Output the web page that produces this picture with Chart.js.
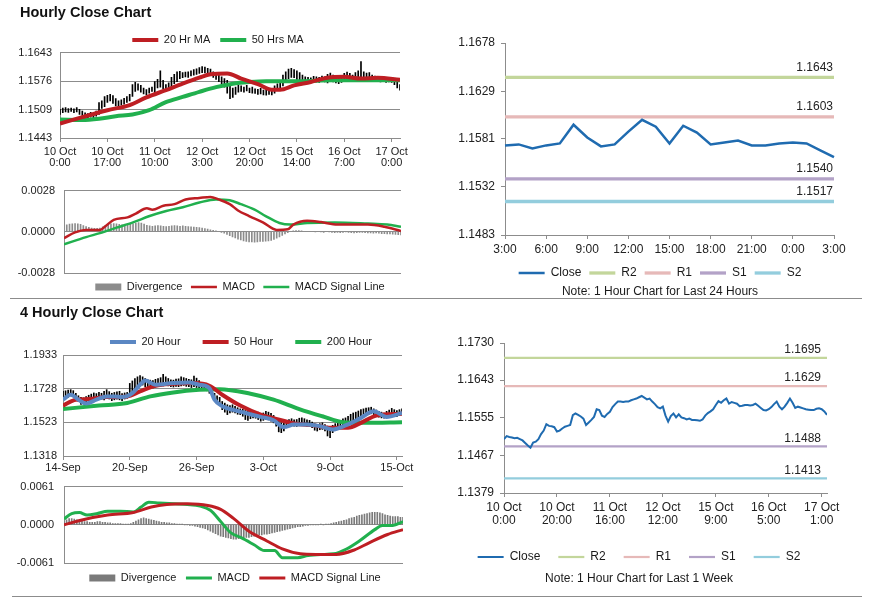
<!DOCTYPE html>
<html>
<head>
<meta charset="utf-8">
<script src="https://cdn.jsdelivr.net/npm/chart.js@4.4.1/dist/chart.umd.min.js"></script>
<style>
  body { margin: 0; background: #fff; }
  #page { position: relative; width: 873px; height: 601px; overflow: hidden; font-family: Arial, "Liberation Sans", sans-serif; }
  .heading { position: absolute; left: 20px; font-weight: bold; font-size: 14.5px; line-height: 17px; color: #111; }
  .rule { position: absolute; height: 0; border-top: 1.5px solid #8c8c8c; }
  canvas { position: absolute; }
</style>
</head>
<body>
<div id="page">
  <canvas id="hourlyPrice" width="420" height="160" style="left:0;top:20px"></canvas>
  <canvas id="hourlyMacd" width="470" height="120" style="left:0;top:175px"></canvas>
  <canvas id="dayLevels" width="430" height="285" style="left:440px;top:20px"></canvas>
  <canvas id="fourPrice" width="470" height="180" style="left:0;top:300px"></canvas>
  <canvas id="fourMacd" width="460" height="125" style="left:0;top:470px"></canvas>
  <canvas id="weekLevels" width="420" height="280" style="left:440px;top:320px"></canvas>
  <div class="heading" style="top:4px">Hourly Close Chart</div>
  <div class="rule" style="left:10px;width:852px;top:298px"></div>
  <div class="heading" style="top:304px">4 Hourly Close Chart</div>
  <div class="rule" style="left:12px;width:850px;top:596px"></div>
</div>
<script>
// ---- hourly close chart (10 Oct 0:00 .. 17 Oct 3:00, one bar per hour)
const hourlyTickIdx = [0, 17, 34, 51, 68, 85, 102, 119];
const hourlyTickLabels = [['10 Oct', '0:00'], ['10 Oct', '17:00'], ['11 Oct', '10:00'], ['12 Oct', '3:00'],
  ['12 Oct', '20:00'], ['15 Oct', '14:00'], ['16 Oct', '7:00'], ['17 Oct', '0:00']];
const hourlyPriceTicks = [1.1443, 1.1509, 1.1576, 1.1643];
const hourlyLow = [
  1.1498, 1.1502, 1.1504, 1.1503, 1.1505, 1.1502, 1.1504, 1.1498, 1.1496, 1.1490,
  1.1488, 1.1492, 1.1490, 1.1494, 1.1498, 1.1512, 1.1516, 1.1526, 1.1530, 1.1524,
  1.1518, 1.1517, 1.1520, 1.1522, 1.1526, 1.1530, 1.1540, 1.1552, 1.1555, 1.1550,
  1.1546, 1.1544, 1.1548, 1.1552, 1.1548, 1.1560, 1.1562, 1.1558, 1.1554, 1.1556,
  1.1562, 1.1570, 1.1575, 1.1582, 1.1584, 1.1586, 1.1585, 1.1588, 1.1590, 1.1592,
  1.1594, 1.1596, 1.1595, 1.1592, 1.1590, 1.1585, 1.1580, 1.1575, 1.1570, 1.1562,
  1.1548, 1.1535, 1.1538, 1.1545, 1.1550, 1.1552, 1.1550, 1.1553, 1.1549, 1.1548,
  1.1547, 1.1545, 1.1546, 1.1544, 1.1543, 1.1545, 1.1544, 1.1548, 1.1555, 1.1558,
  1.1565, 1.1578, 1.1582, 1.1585, 1.1584, 1.1580, 1.1578, 1.1577, 1.1575, 1.1574,
  1.1573, 1.1575, 1.1574, 1.1573, 1.1575, 1.1574, 1.1572, 1.1575, 1.1574, 1.1572,
  1.1570, 1.1573, 1.1576, 1.1580, 1.1578, 1.1575, 1.1577, 1.1580, 1.1582, 1.1580,
  1.1578, 1.1577, 1.1576, 1.1575, 1.1576, 1.1574, 1.1575, 1.1573, 1.1574, 1.1573,
  1.1568, 1.1560, 1.1555];
const hourlyHigh = [
  1.1510, 1.1513, 1.1514, 1.1512, 1.1513, 1.1511, 1.1514, 1.1510, 1.1506, 1.1502,
  1.1500, 1.1503, 1.1500, 1.1506, 1.1526, 1.1530, 1.1540, 1.1543, 1.1545, 1.1542,
  1.1535, 1.1530, 1.1532, 1.1536, 1.1540, 1.1545, 1.1568, 1.1573, 1.1570, 1.1566,
  1.1560, 1.1556, 1.1560, 1.1562, 1.1575, 1.1580, 1.1600, 1.1578, 1.1568, 1.1572,
  1.1585, 1.1592, 1.1598, 1.1599, 1.1596, 1.1597, 1.1598, 1.1600, 1.1603, 1.1605,
  1.1608, 1.1610, 1.1609, 1.1606, 1.1604, 1.1598, 1.1594, 1.1590, 1.1586, 1.1582,
  1.1578, 1.1565, 1.1560, 1.1562, 1.1566, 1.1565, 1.1562, 1.1566, 1.1560, 1.1562,
  1.1558, 1.1557, 1.1559, 1.1555, 1.1556, 1.1558, 1.1554, 1.1565, 1.1570, 1.1575,
  1.1590, 1.1598, 1.1604, 1.1606, 1.1603, 1.1600, 1.1596, 1.1590, 1.1586, 1.1585,
  1.1584, 1.1587, 1.1586, 1.1585, 1.1588, 1.1586, 1.1592, 1.1595, 1.1590, 1.1586,
  1.1583, 1.1588, 1.1594, 1.1597, 1.1594, 1.1590, 1.1596, 1.1600, 1.1622, 1.1598,
  1.1595, 1.1596, 1.1590, 1.1588, 1.1587, 1.1586, 1.1585, 1.1584, 1.1585, 1.1584,
  1.1580, 1.1575, 1.1568];
const hourlyMa20Idx = [0, 8, 17, 25, 31, 38, 44, 50, 54, 60, 65, 71, 76, 79, 84, 90, 96, 102, 108, 114, 122];
const hourlyMa20 = [1.1477, 1.1492, 1.1508, 1.1520, 1.1538, 1.1555, 1.1570, 1.1584, 1.1592, 1.1594, 1.1582,
  1.1569, 1.1556, 1.1556, 1.1566, 1.1574, 1.1584, 1.1586, 1.1582, 1.1584, 1.1579];
const hourlyMa50Idx = [0, 8, 14, 20, 26, 32, 38, 44, 50, 56, 62, 68, 74, 86, 98, 110, 122];
const hourlyMa50 = [1.1486, 1.1485, 1.1488, 1.1494, 1.1498, 1.1508, 1.1527, 1.1539, 1.1551, 1.1562, 1.1570,
  1.1574, 1.1576, 1.1576, 1.1578, 1.1578, 1.1578];

// ---- hourly MACD
const hourlyMacdTicks = [-0.0028, 0, 0.0028];
const hourlyDivergence = [
  0.00042, 0.00048, 0.00052, 0.00055, 0.00056, 0.00054, 0.00050, 0.00042, 0.00035, 0.00030,
  0.00026, 0.00024, 0.00024, 0.00026, 0.00034, 0.00042, 0.00050, 0.00054, 0.00056, 0.00054,
  0.00050, 0.00048, 0.00046, 0.00048, 0.00050, 0.00054, 0.00058, 0.00062, 0.00060, 0.00052,
  0.00044, 0.00040, 0.00038, 0.00040, 0.00042, 0.00040, 0.00038, 0.00036, 0.00038, 0.00040,
  0.00042, 0.00040, 0.00038, 0.00040, 0.00038, 0.00036, 0.00034, 0.00032, 0.00030, 0.00028,
  0.00026, 0.00022, 0.00018, 0.00014, 0.00010, 0.00006, 0.00002, -0.00004, -0.00010, -0.00018,
  -0.00026, -0.00034, -0.00042, -0.00050, -0.00056, -0.00062, -0.00066, -0.00068, -0.00068, -0.00070,
  -0.00068, -0.00066, -0.00066, -0.00064, -0.00062, -0.00058, -0.00052, -0.00044, -0.00034, -0.00024,
  -0.00014, -0.00006, 0.00002, 0.00006, 0.00008, 0.00008, 0.00006, 0.00004, 0.00004, 0.00002,
  0.00002, 0.00000, 0.00002, 0.00000, -0.00002, 0.00002, 0.00000, -0.00004, -0.00006, -0.00004,
  -0.00006, -0.00004, 0.00000, -0.00002, -0.00006, -0.00008, -0.00006, -0.00004, -0.00002, -0.00006,
  -0.00008, -0.00008, -0.00010, -0.00008, -0.00010, -0.00012, -0.00012, -0.00014, -0.00014, -0.00016,
  -0.00018, -0.00020, -0.00022];
const hourlyMacdIdx = [0, 4, 8, 13, 15, 18, 23, 26, 30, 32, 36, 40, 44, 49, 53, 56, 60, 63, 67, 72, 77, 81, 83,
  88, 93, 99, 105, 110, 116, 122];
const hourlyMacd = [-0.00043, -0.00004, 0.00013, 0.00013, 0.00038, 0.00081, 0.00098, 0.00124, 0.0016, 0.0015,
  0.00177, 0.00188, 0.0022, 0.0023, 0.00237, 0.0022, 0.00188, 0.00145, 0.00107, 0.00064, 0.00013, 0.00017,
  0.00049, 0.00075, 0.00066, 0.00049, 0.00049, 0.00049, 0.00034, 0.00006];
const hourlySignalIdx = [0, 8, 13, 19, 25, 31, 37, 43, 49, 55, 60, 64, 69, 73, 78, 82, 88, 98, 110, 117, 122];
const hourlySignal = [-0.00085, -0.00036, -0.00009, 0.00028, 0.00064, 0.00107, 0.00141, 0.00167, 0.00199, 0.0022,
  0.00214, 0.00188, 0.0015, 0.00107, 0.0006, 0.00049, 0.0006, 0.00064, 0.00056, 0.00049, 0.00034];

// ---- last 24 hours with pivot levels
const dayHours = ['3:00', '4:00', '5:00', '6:00', '7:00', '8:00', '9:00', '10:00', '11:00', '12:00', '13:00',
  '14:00', '15:00', '16:00', '17:00', '18:00', '19:00', '20:00', '21:00', '22:00', '23:00', '0:00', '1:00',
  '2:00', '3:00'];
const dayClose = [1.1574, 1.1575, 1.1571, 1.1574, 1.1576, 1.1595, 1.1582, 1.1573, 1.1575, 1.1588, 1.1600,
  1.1593, 1.1576, 1.1594, 1.1587, 1.1575, 1.1577, 1.1579, 1.1574, 1.1574, 1.1576, 1.1577, 1.1576, 1.1569, 1.1562];
const dayTicks = [1.1483, 1.1532, 1.1581, 1.1629, 1.1678];
const levelNames = ['R2', 'R1', 'S1', 'S2'];
const dayLevels = [1.1643, 1.1603, 1.1540, 1.1517];

// ---- 4 hourly close chart (14 Sep .. 15 Oct)
const fourTickIdx = [0, 26, 52, 78, 104, 130];
const fourTickLabels = ['14-Sep', '20-Sep', '26-Sep', '3-Oct', '9-Oct', '15-Oct'];
const fourPriceTicks = [1.1318, 1.1523, 1.1728, 1.1933];
const fourLow = [
  1.1665, 1.1670, 1.1675, 1.1685, 1.1680, 1.1665, 1.1650, 1.1632, 1.1635, 1.1640,
  1.1648, 1.1655, 1.1658, 1.1660, 1.1662, 1.1665, 1.1660, 1.1668, 1.1665, 1.1655,
  1.1660, 1.1664, 1.1660, 1.1655, 1.1665, 1.1670, 1.1690, 1.1700, 1.1725, 1.1740,
  1.1745, 1.1750, 1.1740, 1.1738, 1.1735, 1.1733, 1.1738, 1.1740, 1.1742, 1.1745,
  1.1748, 1.1745, 1.1740, 1.1738, 1.1742, 1.1740, 1.1745, 1.1748, 1.1742, 1.1740,
  1.1735, 1.1740, 1.1735, 1.1730, 1.1728, 1.1725, 1.1715, 1.1700, 1.1680, 1.1660,
  1.1650, 1.1630, 1.1600, 1.1585, 1.1570, 1.1580, 1.1585, 1.1580, 1.1572, 1.1570,
  1.1560, 1.1540, 1.1535, 1.1545, 1.1550, 1.1548, 1.1540, 1.1530, 1.1535, 1.1540,
  1.1538, 1.1530, 1.1520, 1.1500, 1.1465, 1.1460, 1.1470, 1.1490, 1.1500, 1.1505,
  1.1500, 1.1498, 1.1505, 1.1510, 1.1505, 1.1500, 1.1498, 1.1490, 1.1475, 1.1470,
  1.1478, 1.1480, 1.1470, 1.1440, 1.1430, 1.1460, 1.1480, 1.1490, 1.1495, 1.1505,
  1.1510, 1.1520, 1.1530, 1.1535, 1.1540, 1.1550, 1.1555, 1.1560, 1.1565, 1.1570,
  1.1575, 1.1570, 1.1560, 1.1555, 1.1550, 1.1548, 1.1552, 1.1560, 1.1565, 1.1562,
  1.1558, 1.1565, 1.1570];
const fourHigh = [
  1.1712, 1.1715, 1.1720, 1.1722, 1.1716, 1.1700, 1.1685, 1.1675, 1.1672, 1.1680,
  1.1688, 1.1695, 1.1702, 1.1698, 1.1706, 1.1700, 1.1712, 1.1722, 1.1710, 1.1700,
  1.1705, 1.1708, 1.1712, 1.1698, 1.1702, 1.1705, 1.1760, 1.1775, 1.1790, 1.1800,
  1.1808, 1.1800, 1.1790, 1.1782, 1.1780, 1.1778, 1.1785, 1.1790, 1.1795, 1.1816,
  1.1800, 1.1790, 1.1782, 1.1780, 1.1786, 1.1788, 1.1800, 1.1795, 1.1790, 1.1785,
  1.1782, 1.1805, 1.1792, 1.1778, 1.1765, 1.1760, 1.1755, 1.1740, 1.1720, 1.1700,
  1.1685, 1.1675, 1.1650, 1.1640, 1.1630, 1.1625, 1.1630, 1.1620, 1.1612, 1.1605,
  1.1602, 1.1595, 1.1590, 1.1590, 1.1595, 1.1590, 1.1585, 1.1575, 1.1580, 1.1590,
  1.1585, 1.1578, 1.1565, 1.1548, 1.1530, 1.1520, 1.1525, 1.1535, 1.1540, 1.1545,
  1.1538, 1.1540, 1.1548, 1.1550, 1.1545, 1.1538, 1.1535, 1.1525, 1.1515, 1.1510,
  1.1515, 1.1520, 1.1510, 1.1500, 1.1495, 1.1505, 1.1515, 1.1525, 1.1535, 1.1545,
  1.1550, 1.1560, 1.1572, 1.1580, 1.1585, 1.1592, 1.1600, 1.1605, 1.1610, 1.1612,
  1.1615, 1.1605, 1.1598, 1.1590, 1.1585, 1.1580, 1.1590, 1.1598, 1.1608, 1.1600,
  1.1595, 1.1600, 1.1605];
const four20Idx = [0, 3, 6, 9, 13, 17, 20, 23, 27, 30, 32, 36, 43, 49, 53, 57, 59, 62, 66, 71, 77, 82, 86, 90,
  95, 100, 105, 110, 116, 121, 126, 132];
const four20 = [1.1661, 1.1691, 1.1661, 1.1637, 1.1661, 1.1681, 1.1681, 1.1677, 1.1701, 1.1752, 1.1778, 1.1752,
  1.1762, 1.1766, 1.1752, 1.1731, 1.1661, 1.1621, 1.1600, 1.1580, 1.1556, 1.1536, 1.1494, 1.1510, 1.1510,
  1.1500, 1.1479, 1.1504, 1.1550, 1.1590, 1.1556, 1.1580];
const four50Idx = [0, 5, 10, 17, 25, 30, 36, 43, 51, 57, 62, 69, 77, 83, 90, 98, 104, 111, 116, 122, 132];
const four50 = [1.1625, 1.1661, 1.1665, 1.1677, 1.1681, 1.1711, 1.1746, 1.1758, 1.1762, 1.1746, 1.1691, 1.1625,
  1.1570, 1.1544, 1.1516, 1.1504, 1.1490, 1.1490, 1.1520, 1.1564, 1.1576];
const four200Idx = [0, 14, 25, 34, 43, 53, 61, 73, 82, 92, 101, 109, 118, 132];
const four200 = [1.1604, 1.1625, 1.1641, 1.1681, 1.1705, 1.1721, 1.1725, 1.1697, 1.1661, 1.1604, 1.1560, 1.1524,
  1.1520, 1.1524];

// ---- 4 hourly MACD
const fourMacdTicks = [-0.0061, 0, 0.0061];
const fourDivergence = [
  0.0006, 0.0008, 0.0010, 0.0010, 0.0009, 0.0008, 0.0007, 0.0006, 0.0005, 0.0005,
  0.0004, 0.0004, 0.0004, 0.0005, 0.0005, 0.0004, 0.0004, 0.0003, 0.0003, 0.0002,
  0.0002, 0.0002, 0.0002, 0.0001, 0.0001, 0.0001, 0.0002, 0.0004, 0.0006, 0.0008,
  0.0010, 0.0011, 0.0010, 0.0009, 0.0008, 0.0007, 0.0006, 0.0005, 0.0004, 0.0004,
  0.0003, 0.0003, 0.0002, 0.0002, 0.0001, 0.0001, 0.0001, 0.0000, 0.0000, -0.0001,
  -0.0001, -0.0002, -0.0003, -0.0004, -0.0005, -0.0006, -0.0008, -0.0010, -0.0012, -0.0014,
  -0.0016, -0.0018, -0.0019, -0.0020, -0.0021, -0.0022, -0.0023, -0.0023, -0.0022, -0.0022,
  -0.0021, -0.0020, -0.0020, -0.0019, -0.0018, -0.0017, -0.0016, -0.0016, -0.0015, -0.0015,
  -0.0014, -0.0013, -0.0012, -0.0011, -0.0010, -0.0009, -0.0008, -0.0007, -0.0006, -0.0005,
  -0.0004, -0.0003, -0.0003, -0.0002, -0.0001, -0.0001, 0.0000, 0.0000, 0.0000, 0.0000,
  0.0001, 0.0000, 0.0001, 0.0001, 0.0002, 0.0003, 0.0004, 0.0005, 0.0006, 0.0007,
  0.0008, 0.0010, 0.0011, 0.0012, 0.0014, 0.0015, 0.0016, 0.0017, 0.0018, 0.0019,
  0.0020, 0.0020, 0.0020, 0.0019, 0.0018, 0.0016, 0.0015, 0.0014, 0.0013, 0.0013,
  0.0013, 0.0012, 0.0012];
const fourMacdIdx = [0, 3, 6, 9, 13, 17, 22, 27, 30, 33, 37, 43, 48, 53, 57, 61, 65, 69, 74, 78, 82, 85, 91, 95,
  100, 105, 110, 115, 121, 124, 128, 132];
const fourMacd = [0.00093, 0.0018, 0.00196, 0.00155, 0.0018, 0.00216, 0.00216, 0.00206, 0.00283, 0.0036, 0.0035,
  0.00335, 0.00324, 0.00299, 0.00232, 0.00052, -0.00129, -0.00206, -0.00319, -0.00412, -0.00412, -0.00525,
  -0.00525, -0.0049, -0.00474, -0.00464, -0.00386, -0.00258, -0.00077, -0.0001, -0.0001, 0.00052];
const fourSignalIdx = [0, 7, 17, 27, 34, 40, 48, 56, 61, 66, 72, 79, 85, 92, 98, 106, 113, 119, 126, 132];
const fourSignal = [0, 0.00077, 0.00155, 0.00196, 0.00283, 0.00324, 0.00335, 0.00309, 0.00247, 0.00103, -0.00103,
  -0.00258, -0.00386, -0.00464, -0.00474, -0.00474, -0.00402, -0.00283, -0.00155, -0.00077];

// ---- last week, 1 hour closes with pivot levels
const weekTickIdx = [0, 20, 40, 60, 80, 100, 120];
const weekTickLabels = [['10 Oct', '0:00'], ['10 Oct', '20:00'], ['11 Oct', '16:00'], ['12 Oct', '12:00'],
  ['15 Oct', '9:00'], ['16 Oct', '5:00'], ['17 Oct', '1:00']];
const weekTicks = [1.1379, 1.1467, 1.1555, 1.1643, 1.1730];
const weekClose = [
  1.1505, 1.1512, 1.1510, 1.1509, 1.1507, 1.1508, 1.1505, 1.1502, 1.1496, 1.1490,
  1.1485, 1.1497, 1.1499, 1.1505, 1.1517, 1.1525, 1.1540, 1.1536, 1.1535, 1.1533,
  1.1523, 1.1525, 1.1530, 1.1534, 1.1536, 1.1538, 1.1561, 1.1565, 1.1562, 1.1558,
  1.1553, 1.1538, 1.1544, 1.1550, 1.1557, 1.1575, 1.1573, 1.1560, 1.1557, 1.1564,
  1.1569, 1.1580, 1.1587, 1.1593, 1.1593, 1.1592, 1.1593, 1.1593, 1.1596, 1.1598,
  1.1600, 1.1603, 1.1606, 1.1602, 1.1598, 1.1600, 1.1593, 1.1587, 1.1580, 1.1577,
  1.1581, 1.1560, 1.1546, 1.1559, 1.1565, 1.1556, 1.1563, 1.1556, 1.1554, 1.1551,
  1.1553, 1.1550, 1.1550, 1.1549, 1.1548, 1.1551, 1.1560, 1.1566, 1.1570, 1.1575,
  1.1585, 1.1594, 1.1590, 1.1596, 1.1600, 1.1588, 1.1592, 1.1590, 1.1588, 1.1582,
  1.1583, 1.1585, 1.1585, 1.1584, 1.1585, 1.1588, 1.1583, 1.1578, 1.1573, 1.1572,
  1.1575, 1.1580, 1.1587, 1.1593, 1.1581, 1.1575, 1.1581, 1.1590, 1.1600, 1.1590,
  1.1578, 1.1581, 1.1579, 1.1577, 1.1575, 1.1574, 1.1573, 1.1573, 1.1576, 1.1577,
  1.1575, 1.1570, 1.1562];
const weekLevels = [1.1695, 1.1629, 1.1488, 1.1413];

// colours
const gridGray = '#8c8c8c';
const maRed = '#be1e23';
const maGreen = '#21b04e';
const maBlue = '#5b87c3';
const closeBlue = '#1f6bb0';
const levelColors = ['#c3d69b', '#e6b9b8', '#b3a2c7', '#93cddd'];

Chart.defaults.font.family = 'Arial, "Liberation Sans", sans-serif';
Chart.defaults.color = '#222';
Chart.defaults.animation = false;
Chart.defaults.plugins.tooltip.enabled = false;

// helpers
const pts = (xs, ys) => xs.map((x, i) => ({x: x, y: ys[i]}));
const seq = ys => ys.map((y, i) => ({x: i, y: y}));
const ranges = (lo, hi) => lo.map((l, i) => ({x: i, y: [l, hi[i]]}));
const fmt4 = v => Number(v).toFixed(4);
const setTicks = values => axis => { axis.ticks = values.map(v => ({value: v})); };
const setWidth = w => axis => { axis.width = w; };
const setHeight = h => axis => { axis.height = h; };

function lineSet(label, data, color, width, order, smooth) {
    return {
        type: 'line', label: label, data: data, borderColor: color, backgroundColor: color,
        borderWidth: width, pointRadius: 0, pointStyle: 'line', pointBorderWidth: width,
        cubicInterpolationMode: smooth ? 'monotone' : 'default', tension: 0, fill: false, order: order
    };
}

function legendOpts(position, padding, maxHeight, size) {
    return {
        position: position, fullSize: true, maxHeight: maxHeight,
        labels: {
            usePointStyle: true, pointStyleWidth: 26, boxHeight: 7, padding: padding,
            font: {size: size}, color: '#1a1a1a',
            filter: (item, data) => data.datasets[item.datasetIndex].inLegend !== false,
            sort: (a, b) => a.datasetIndex - b.datasetIndex
        }
    };
}

function noteTitle(text) {
    return {
        display: true, text: text, position: 'bottom', color: '#1a1a1a',
        font: {size: 12, weight: 'normal', lineHeight: 1}, padding: {top: 4, bottom: 0}
    };
}

// empty right-hand box, only there so the legend centre sits where the original has it
function spacerAxis(width) {
    return {
        type: 'linear', position: 'right', display: true,
        grid: {display: false}, border: {display: false}, ticks: {display: false},
        afterFit: setWidth(width)
    };
}

function indexAxis(max, tickIdx, tickLabels, height, pad, size, lineHeight) {
    return {
        type: 'linear', min: 0, max: max, offset: false,
        grid: {drawOnChartArea: false, drawTicks: true, tickLength: 4, tickColor: gridGray, offset: false},
        border: {color: gridGray},
        ticks: {
            padding: pad, maxRotation: 0, autoSkip: false, font: {size: size, lineHeight: lineHeight},
            callback: v => tickLabels[tickIdx.indexOf(v)]
        },
        afterBuildTicks: setTicks(tickIdx), afterFit: setHeight(height)
    };
}

function hiddenIndexAxis(max) {
    return {type: 'linear', min: 0, max: max, display: false, offset: false, grid: {offset: false}};
}

function gridY(min, max, ticks, width, pad) {
    return {
        type: 'linear', min: min, max: max, beginAtZero: false,
        grid: {color: gridGray, drawTicks: false}, border: {color: gridGray},
        ticks: {padding: pad, font: {size: 11}, callback: fmt4},
        afterBuildTicks: setTicks(ticks), afterFit: setWidth(width)
    };
}

function levelY(min, max, ticks, width) {
    return {
        type: 'linear', min: min, max: max,
        grid: {drawOnChartArea: false, tickLength: 4, tickColor: gridGray}, border: {color: gridGray},
        ticks: {padding: 6, font: {size: 12}, callback: fmt4},
        afterBuildTicks: setTicks(ticks), afterFit: setWidth(width)
    };
}

// value labels above the pivot lines
const levelLabels = {
    id: 'levelLabels',
    afterDatasetsDraw(chart, args, opts) {
        const {ctx, chartArea, scales} = chart;
        ctx.save();
        ctx.font = '12px Arial, "Liberation Sans", sans-serif';
        ctx.fillStyle = '#222';
        ctx.textAlign = 'right';
        ctx.textBaseline = 'bottom';
        chart.data.datasets.forEach(ds => {
            if (ds.level === undefined) return;
            const y = scales.y.getPixelForValue(ds.level);
            ctx.fillText(fmt4(ds.level), chartArea.right - opts.inset, y - opts.lift);
        });
        ctx.restore();
    }
};

//hourly price bars + moving averages
new Chart(document.getElementById('hourlyPrice'), {
    type: 'bar',
    data: {
        datasets: [
            lineSet('20 Hr MA', pts(hourlyMa20Idx, hourlyMa20), maRed, 4, 0, true),
            lineSet('50 Hrs MA', pts(hourlyMa50Idx, hourlyMa50), maGreen, 4, 1, true),
            {label: 'Range', data: ranges(hourlyLow, hourlyHigh), backgroundColor: '#000', barThickness: 1, order: 2, inLegend: false}
        ]
    },
    options: {
        responsive: false,
        layout: {padding: {left: 16, right: 0, top: 4.5, bottom: 0}},
        plugins: {legend: legendOpts('top', 10, 28, 11)},
        scales: {
            x: indexAxis(122, hourlyTickIdx, hourlyTickLabels, 42, 4.5, 11, 1),
            y: gridY(1.1443, 1.1643, hourlyPriceTicks, 44, 8),
            yPad: spacerAxis(20)
        }
    }
});

//hourly MACD
new Chart(document.getElementById('hourlyMacd'), {
    type: 'bar',
    data: {
        datasets: [
            {label: 'Divergence', data: seq(hourlyDivergence), backgroundColor: '#8c8c8c', barThickness: 1, pointStyle: 'rect', order: 2},
            lineSet('MACD', pts(hourlyMacdIdx, hourlyMacd), maRed, 2.5, 0, true),
            lineSet('MACD Signal Line', pts(hourlySignalIdx, hourlySignal), maGreen, 2.5, 1, true)
        ]
    },
    options: {
        responsive: false,
        layout: {padding: {left: 14, right: 4, top: 11, bottom: 0}},
        plugins: {legend: legendOpts('bottom', 8.5, 22, 11)},
        scales: {
            x: hiddenIndexAxis(122),
            y: gridY(-0.0028, 0.0028, hourlyMacdTicks, 50, 9),
            yPad: spacerAxis(65)
        }
    }
});

//last 24 hours with pivots
new Chart(document.getElementById('dayLevels'), {
    type: 'line',
    data: {
        labels: dayHours,
        datasets: [lineSet('Close', dayClose, closeBlue, 2.5, 0, false)].concat(
            levelNames.map((name, i) => Object.assign(
                lineSet(name, dayHours.map(() => dayLevels[i]), levelColors[i], 3.3, 1, false),
                {level: dayLevels[i]})))
    },
    options: {
        responsive: false,
        layout: {padding: {left: 15, right: 5, top: 23, bottom: 7}},
        plugins: {
            legend: legendOpts('bottom', 8, 23, 12),
            title: noteTitle('Note: 1 Hour Chart for Last 24 Hours'),
            levelLabels: {inset: 1, lift: 4}
        },
        scales: {
            x: {
                grid: {drawOnChartArea: false, tickLength: 4, tickColor: gridGray}, border: {color: gridGray},
                ticks: {padding: 4.5, maxRotation: 0, autoSkip: false, font: {size: 12, lineHeight: 1.083}},
                afterBuildTicks: axis => { axis.ticks = axis.ticks.filter(t => t.value % 3 === 0); },
                afterFit: setHeight(24)
            },
            y: levelY(1.1483, 1.1678, dayTicks, 50),
            yPad: spacerAxis(31)
        }
    },
    plugins: [levelLabels]
});

//4 hourly price bars + moving averages
new Chart(document.getElementById('fourPrice'), {
    type: 'bar',
    data: {
        datasets: [
            lineSet('20 Hour', pts(four20Idx, four20), maBlue, 4, 0, true),
            lineSet('50 Hour', pts(four50Idx, four50), maRed, 4, 1, true),
            lineSet('200 Hour', pts(four200Idx, four200), maGreen, 4, 2, true),
            {label: 'Range', data: ranges(fourLow, fourHigh), backgroundColor: '#000', barThickness: 1, order: 3, inLegend: false}
        ]
    },
    options: {
        responsive: false,
        layout: {padding: {left: 13, right: 1, top: 14.5, bottom: 0}},
        plugins: {legend: legendOpts('top', 22, 40.5, 11)},
        scales: {
            x: indexAxis(132, fourTickIdx, fourTickLabels, 24, 2.5, 11, 1),
            y: gridY(1.1318, 1.1933, fourPriceTicks, 50, 6),
            yPad: spacerAxis(67)
        }
    }
});

//4 hourly MACD
new Chart(document.getElementById('fourMacd'), {
    type: 'bar',
    data: {
        datasets: [
            {label: 'Divergence', data: seq(fourDivergence), backgroundColor: '#7a7a7a', barThickness: 1, pointStyle: 'rect', order: 2},
            lineSet('MACD', pts(fourMacdIdx, fourMacd), maGreen, 3, 1, true),
            lineSet('MACD Signal Line', pts(fourSignalIdx, fourSignal), maRed, 3, 0, true)
        ]
    },
    options: {
        responsive: false,
        layout: {padding: {left: 12, right: 2, top: 14, bottom: 2}},
        plugins: {legend: legendOpts('bottom', 9.5, 30, 11)},
        scales: {
            x: hiddenIndexAxis(132),
            y: gridY(-0.0061, 0.0061, fourMacdTicks, 52, 10),
            yPad: spacerAxis(55)
        }
    }
});

//last week with pivots
new Chart(document.getElementById('weekLevels'), {
    type: 'line',
    data: {
        datasets: [lineSet('Close', seq(weekClose), closeBlue, 2, 0, false)].concat(
            levelNames.map((name, i) => Object.assign(
                lineSet(name, [{x: 0, y: weekLevels[i]}, {x: weekClose.length - 1, y: weekLevels[i]}], levelColors[i], 2.2, 1, false),
                {level: weekLevels[i]})))
    },
    options: {
        responsive: false,
        layout: {padding: {left: 11, right: 33, top: 23, bottom: 15}},
        plugins: {
            legend: legendOpts('bottom', 18, 36, 12),
            title: noteTitle('Note: 1 Hour Chart for Last 1 Week'),
            levelLabels: {inset: 6, lift: 2}
        },
        scales: {
            x: indexAxis(122, weekTickIdx, weekTickLabels, 40, 4.5, 12, 1.083),
            y: levelY(1.1379, 1.1730, weekTicks, 53)
        }
    },
    plugins: [levelLabels]
});
</script>
</body>
</html>
